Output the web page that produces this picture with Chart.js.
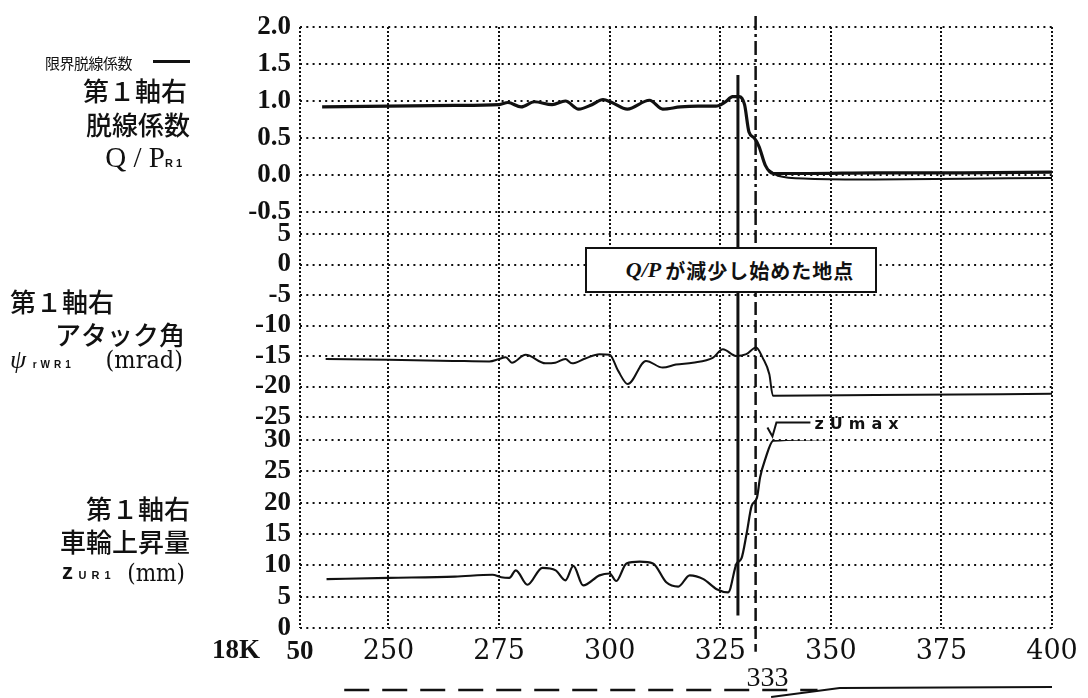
<!DOCTYPE html>
<html lang="ja">
<head>
<meta charset="utf-8">
<script src="https://cdn.jsdelivr.net/npm/chart.js@4.4.1/dist/chart.umd.min.js"></script>
<style>
  body { margin: 0; background: #fff; }
  #wrap { position: relative; width: 1088px; height: 698px; color: #111; }
  #wrap canvas { position: absolute; left: 0; top: 0; }
  .jp { position: absolute; font-family: "Noto Sans CJK JP"; font-weight: 500; line-height: 1; white-space: nowrap; }
  .sym { position: absolute; line-height: 1; white-space: nowrap; font-family: "Liberation Serif", serif; }
  .sub { font-family: "Liberation Sans", sans-serif; font-weight: bold; font-size: 11px; letter-spacing: 3px; }
  .unit { font-family: "DejaVu Serif Condensed", serif; }
  #note { position: absolute; left: 585px; top: 247px; width: 270px; height: 42px; border: 2px solid #111;
          background: #fff; display: flex; align-items: center; justify-content: center; padding-left: 18px; }
  #note i { font-family: "Liberation Serif", serif; font-weight: bold; font-size: 22px; margin-right: 4px; }
  #note span { font-family: "Noto Sans CJK JP"; font-weight: 700; font-size: 20px; letter-spacing: 1px; }
  #swatch { position: absolute; left: 153px; top: 60px; width: 37px; height: 3px; background: #111; }
</style>
</head>
<body>
<div id="wrap">
  <canvas id="chart" width="1088" height="698"></canvas>

  <div class="jp" style="left:45px;top:55px;font-size:15px;font-weight:400;letter-spacing:-0.5px">限界脱線係数</div>
  <div id="swatch"></div>
  <div class="jp" style="right:901px;top:77px;font-size:26px">第１軸右</div>
  <div class="jp" style="right:898px;top:111px;font-size:26px">脱線係数</div>
  <div class="sym" style="right:903px;top:143px;font-size:29px">Q / P<span class="sub">R1</span></div>

  <div class="jp" style="left:10px;top:288px;font-size:26px">第１軸右</div>
  <div class="jp" style="right:903px;top:321px;font-size:26px">アタック角</div>
  <div class="sym" style="left:10px;top:347px;font-size:26px"><i>ψ</i> <span class="sub" style="font-size:10px;letter-spacing:4px">rWR1</span></div>
  <div class="sym" style="right:905px;top:347px"><span class="unit" style="font-size:25px">(mrad)</span></div>

  <div class="jp" style="right:898px;top:495px;font-size:26px">第１軸右</div>
  <div class="jp" style="right:898px;top:528px;font-size:26px">車輪上昇量</div>
  <div class="sym" style="left:62px;top:561px;font-size:22px"><b style="font-family:'Liberation Sans'">z</b> <span class="sub" style="letter-spacing:5px">UR1</span></div>
  <div class="sym" style="right:903px;top:561px"><span class="unit" style="font-size:24px">(mm)</span></div>

  <div id="note"><i>Q/P</i><span>が減少し始めた地点</span></div>
</div>

<script>
// distance along the track (m after 18K)
const xTicks = [230, 250, 275, 300, 325, 350, 375, 400];

// Q/P R1, first axle right
const qpX = [235, 250, 265, 275, 277, 280, 283, 287, 290, 293, 296, 298.5, 300.5, 304, 309, 312, 316, 320, 324, 326, 327.8, 329.3, 330.5, 331.5, 332.7, 333.8, 335.2, 337, 345, 360, 380, 400];
const qpY = [0.92, 0.93, 0.94, 0.95, 0.98, 0.92, 0.99, 0.95, 1.0, 0.89, 0.95, 1.02, 0.98, 0.89, 1.01, 0.89, 0.92, 0.93, 0.93, 0.98, 1.06, 1.06, 0.95, 0.58, 0.5, 0.38, 0.13, 0.02, 0.02, 0.03, 0.03, 0.04];

// limit derailment coefficient (tail after the drop)
const limX = [336, 338, 345, 360, 380, 400];
const limY = [0.07, -0.01, -0.05, -0.06, -0.05, -0.04];

// attack angle psi rWR1 (mrad)
const atX = [235.8, 250, 264.6, 272.8, 275, 276.5, 277.9, 281, 285.5, 287.7, 290, 291.5, 294.5, 297.7, 300, 301.9, 304.1, 308.2, 312, 315, 318.8, 323.3, 325.6, 328.6, 330.9, 333.1, 334.6, 336.1, 336.9, 360, 400];
const atY = [-15.5, -15.6, -15.8, -15.9, -15.5, -15.2, -16.1, -14.8, -16.2, -16.1, -15.5, -16.2, -15.4, -14.7, -14.8, -17.4, -19.6, -15.8, -16.9, -16.4, -16.1, -15.3, -13.9, -15.0, -14.7, -13.6, -15.3, -18.0, -21.5, -21.4, -21.2];

// wheel lift zUR1 (mm)
const zX = [236, 250, 265, 273.5, 275.5, 277.3, 278.8, 281.4, 284.8, 287.8, 290, 291.8, 294, 297.7, 300, 301.5, 303.8, 306.8, 309.8, 312.8, 315.5, 318.1, 321.2, 324.2, 326.8, 328.7, 329.8, 331, 332.1, 333.3, 334, 335.2, 337, 360, 400];
const zY = [7.8, 8.0, 8.2, 8.5, 8.1, 8.0, 9.2, 6.9, 9.6, 9.2, 7.6, 9.9, 6.8, 8.4, 8.7, 7.5, 10.3, 10.6, 10.3, 7.3, 6.6, 8.4, 7.8, 6.2, 5.7, 10.3, 11.1, 15.2, 19.5, 20.8, 24.0, 27.0, 29.9, 30.2, 30.4];

// marker positions
const dropX = 329;          // where Q/P starts to fall
const dropSpan = [1.35, 2]; // from Q/P value down to zUR1 value
const refX = 333;           // reference position, dashed
const refSpan = [2.15, -3.8];
const zMax = [336.8, 30.4];

// track sketch under the axis
const trackStraight = [240, 347];
const trackCurve = [336.5, 352, 400];

const pts = (xs, ys) => xs.map((x, i) => ({ x: x, y: ys[i] }));

const yFont = { family: "'Liberation Serif', serif", size: 27, weight: 'bold' };
const xFont = { family: "'DejaVu Serif', serif", size: 27, weight: 'normal' };

function panelAxis(min, max, step, weight, fmt) {
  return {
    position: 'left', stack: 'panels', stackWeight: weight,
    min: min, max: max,
    ticks: { stepSize: step, autoSkip: false, padding: 9, color: '#111', font: yFont, callback: fmt },
    grid: { color: '#111', lineWidth: 2, drawTicks: false },
    border: { display: false, dash: [2, 4.3] },
    afterFit: s => { s.width = 300; }
  };
}

function gapAxis(weight) {
  return {
    position: 'left', stack: 'panels', stackWeight: weight,
    grid: { display: false }, ticks: { display: false }, border: { display: false },
    afterFit: s => { s.width = 300; }
  };
}

function line(data, axis, width) {
  return {
    data: data, yAxisID: axis, borderColor: '#111', borderWidth: width,
    pointRadius: 0, fill: false, cubicInterpolationMode: 'monotone'
  };
}

const marks = {
  id: 'marks',
  afterDraw(chart) {
    const { ctx, scales } = chart;
    const x = scales.x, yQ = scales.yQ, yZ = scales.yZ;
    ctx.save();
    ctx.strokeStyle = '#111';
    ctx.fillStyle = '#111';

    // Q/P drop marker
    const xs = x.getPixelForValue(dropX);
    ctx.lineWidth = 3;
    ctx.beginPath();
    ctx.moveTo(xs, yQ.getPixelForValue(dropSpan[0]));
    ctx.lineTo(xs, yZ.getPixelForValue(dropSpan[1]));
    ctx.stroke();

    // 333 marker: dash-dot in the top panel, dashed below
    const xd = x.getPixelForValue(refX);
    ctx.lineWidth = 2.5;
    ctx.setLineDash([14, 4, 3, 4]);
    ctx.beginPath();
    ctx.moveTo(xd, yQ.getPixelForValue(refSpan[0]));
    ctx.lineTo(xd, yQ.getPixelForValue(-0.5));
    ctx.stroke();
    ctx.setLineDash([13, 5]);
    ctx.beginPath();
    ctx.moveTo(xd, yQ.getPixelForValue(-0.5));
    ctx.lineTo(xd, yZ.getPixelForValue(refSpan[1]));
    ctx.stroke();
    ctx.setLineDash([]);

    ctx.font = "28px 'Liberation Serif'";
    ctx.textAlign = 'center';
    ctx.textBaseline = 'middle';
    ctx.fillText(String(refX), xd + 12, 679);

    ctx.font = "bold 27px 'Liberation Serif'";
    ctx.textAlign = 'right';
    ctx.fillText('18K', x.getPixelForValue(230) - 40, 651);

    // zUmax arrow
    const px = x.getPixelForValue(zMax[0]);
    const py = yZ.getPixelForValue(zMax[1]) - 1;
    ctx.lineWidth = 2;
    ctx.beginPath();
    ctx.moveTo(px - 5, py - 9);
    ctx.lineTo(px, py);
    ctx.lineTo(px + 4, py - 14);
    ctx.lineTo(px + 38, py - 14);
    ctx.stroke();
    ctx.font = "bold 16px 'DejaVu Sans'";
    ctx.textAlign = 'left';
    if ('letterSpacing' in ctx) ctx.letterSpacing = '6px';
    ctx.fillText('zUmax', px + 42, py - 12);
    if ('letterSpacing' in ctx) ctx.letterSpacing = '0px';

    // track sketch
    const base = chart.height;
    ctx.lineWidth = 2.5;
    ctx.setLineDash([25, 13]);
    ctx.beginPath();
    ctx.moveTo(x.getPixelForValue(trackStraight[0]), base - 8);
    ctx.lineTo(x.getPixelForValue(trackStraight[1]), base - 8);
    ctx.stroke();
    ctx.setLineDash([]);
    ctx.lineWidth = 1.8;
    ctx.beginPath();
    ctx.moveTo(x.getPixelForValue(trackCurve[0]), base - 1);
    ctx.lineTo(x.getPixelForValue(trackCurve[1]), base - 10);
    ctx.lineTo(x.getPixelForValue(trackCurve[2]), base - 11);
    ctx.stroke();
    ctx.restore();
  }
};

new Chart(document.getElementById('chart'), {
  type: 'line',
  data: {
    datasets: [
      line(pts(qpX, qpY), 'yQ', 3.2),
      line(pts(limX, limY), 'yQ', 2),
      line(pts(atX, atY), 'yA', 2),
      line(pts(zX, zY), 'yZ', 2.2)
    ]
  },
  options: {
    responsive: false,
    animation: false,
    layout: { padding: { top: 27, right: 36, left: 0, bottom: 0 } },
    plugins: { legend: { display: false }, tooltip: { enabled: false } },
    scales: {
      x: {
        type: 'linear', min: 230, max: 400,
        afterBuildTicks: s => { s.ticks = xTicks.map(v => ({ value: v })); },
        afterFit: s => { s.height = 70; },
        ticks: {
          autoSkip: false, maxRotation: 0, padding: 8, color: '#111',
          font: c => (c.tick && c.tick.value === 230) ? yFont : xFont,
          callback: v => v === 230 ? '50' : String(v)
        },
        grid: { color: '#111', lineWidth: 2, drawTicks: false },
        border: { display: false, dash: [2, 2] }
      },
      yZ: panelAxis(0, 30, 5, 188, v => String(v)),
      g2: gapAxis(23),
      yA: panelAxis(-25, 5, 5, 183, v => String(v)),
      g1: gapAxis(22),
      yQ: panelAxis(-0.5, 2, 0.5, 185, v => v.toFixed(1))
    }
  },
  plugins: [marks]
});
</script>
</body>
</html>
